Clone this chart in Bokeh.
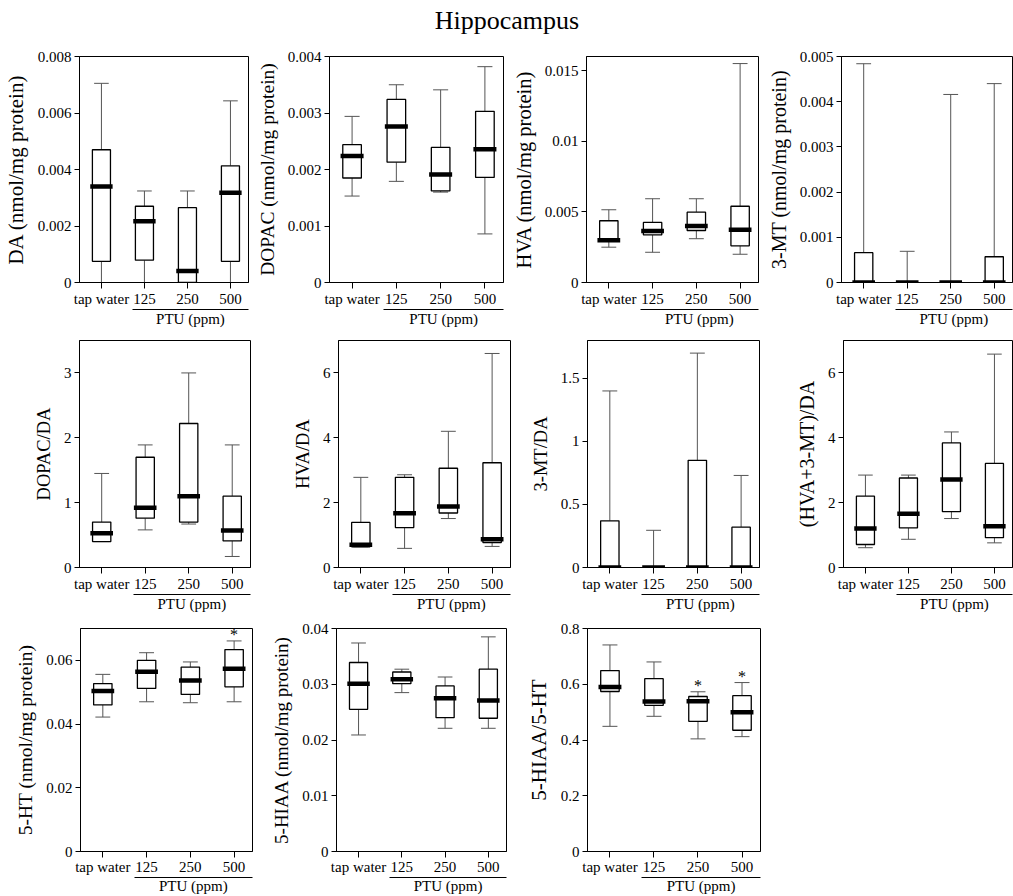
from bokeh.plotting import figure
from bokeh.models import Range1d, FixedTicker, LinearAxis, PrintfTickFormatter, ColumnDataSource
from bokeh.layouts import row, column
from bokeh.embed import file_html
from bokeh.resources import INLINE
from bokeh.core.properties import value

FONT = "Liberation Serif"

groups = ["tap water", "125", "250", "500"]
group_x = [1, 2, 3, 4]
title_text = "Hippocampus"
ptu_label = "PTU (ppm)"

# ---- DA (nmol/mg protein)
da_low = [0.0, 0.0, 0.0, 0.0]
da_q1 = [0.00075, 0.00079, 0.0, 0.00075]
da_med = [0.0034, 0.00217, 0.00041, 0.00318]
da_q3 = [0.0047, 0.0027, 0.00265, 0.00413]
da_high = [0.00705, 0.00324, 0.00324, 0.00643]
da_ticks = [0, 0.002, 0.004, 0.006, 0.008]

# ---- DOPAC (nmol/mg protein)
dopac_low = [0.00153, 0.00179, 0.0016, 0.00086]
dopac_q1 = [0.00185, 0.00213, 0.00162, 0.00186]
dopac_med = [0.00224, 0.00276, 0.00191, 0.00236]
dopac_q3 = [0.00244, 0.00324, 0.00239, 0.00303]
dopac_high = [0.00294, 0.0035, 0.00341, 0.00382]
dopac_ticks = [0, 0.001, 0.002, 0.003, 0.004]

# ---- HVA (nmol/mg protein)
hva_low = [0.0025, 0.00214, 0.0031, 0.002]
hva_q1 = [0.00295, 0.00337, 0.00368, 0.0026]
hva_med = [0.003, 0.00365, 0.004, 0.00373]
hva_q3 = [0.00437, 0.00425, 0.00498, 0.0054]
hva_high = [0.00515, 0.00593, 0.00593, 0.0155]
hva_ticks = [0, 0.005, 0.01, 0.015]

# ---- 3-MT (nmol/mg protein)
mt_low = [0.0, 0.0, 0.0, 0.0]
mt_q1 = [0.0, 0.0, 0.0, 0.0]
mt_med = [0.0, 0.0, 0.0, 0.0]
mt_q3 = [0.00066, 0.0, 0.0, 0.00057]
mt_high = [0.00484, 0.00069, 0.00416, 0.0044]
mt_ticks = [0, 0.001, 0.002, 0.003, 0.004, 0.005]

# ---- DOPAC/DA
dopacda_low = [0.4, 0.58, 0.67, 0.17]
dopacda_q1 = [0.4, 0.76, 0.7, 0.41]
dopacda_med = [0.53, 0.92, 1.1, 0.57]
dopacda_q3 = [0.7, 1.7, 2.22, 1.1]
dopacda_high = [1.45, 1.89, 3.0, 1.89]
dopacda_ticks = [0, 1, 2, 3]

# ---- HVA/DA
hvada_low = [0.64, 0.59, 1.51, 0.65]
hvada_q1 = [0.64, 1.23, 1.68, 0.77]
hvada_med = [0.7, 1.67, 1.88, 0.87]
hvada_q3 = [1.39, 2.78, 3.06, 3.23]
hvada_high = [2.78, 2.86, 4.2, 6.6]
hvada_ticks = [0, 2, 4, 6]

# ---- 3-MT/DA
mtda_low = [0.0, 0.0, 0.0, 0.0]
mtda_q1 = [0.0, 0.0, 0.0, 0.0]
mtda_med = [0.0, 0.0, 0.0, 0.0]
mtda_q3 = [0.37, 0.0, 0.85, 0.32]
mtda_high = [1.4, 0.295, 1.7, 0.73]
mtda_ticks = [0, 0.5, 1, 1.5]

# ---- (HVA+3-MT)/DA
sumda_low = [0.61, 0.87, 1.51, 0.76]
sumda_q1 = [0.71, 1.22, 1.72, 0.92]
sumda_med = [1.2, 1.66, 2.71, 1.27]
sumda_q3 = [2.2, 2.76, 3.84, 3.21]
sumda_high = [2.85, 2.85, 4.18, 6.58]
sumda_ticks = [0, 2, 4, 6]

# ---- 5-HT (nmol/mg protein)
ht_low = [0.0422, 0.047, 0.0467, 0.047]
ht_q1 = [0.046, 0.0512, 0.0493, 0.0517]
ht_med = [0.0504, 0.0564, 0.0537, 0.0574]
ht_q3 = [0.0527, 0.06, 0.0579, 0.0634]
ht_high = [0.0556, 0.0624, 0.0595, 0.0661]
ht_star = [False, False, False, True]
ht_ticks = [0, 0.02, 0.04, 0.06]

# ---- 5-HIAA (nmol/mg protein)
hiaa_low = [0.0209, 0.0285, 0.0221, 0.0221]
hiaa_q1 = [0.0255, 0.0301, 0.024, 0.0239]
hiaa_med = [0.0301, 0.0309, 0.0275, 0.0271]
hiaa_q3 = [0.0339, 0.0322, 0.0297, 0.0327]
hiaa_high = [0.0374, 0.0327, 0.0313, 0.0385]
hiaa_ticks = [0, 0.01, 0.02, 0.03, 0.04]

# ---- 5-HIAA/5-HT
ratio_low = [0.449, 0.485, 0.404, 0.412]
ratio_q1 = [0.574, 0.524, 0.467, 0.435]
ratio_med = [0.59, 0.538, 0.539, 0.5]
ratio_q3 = [0.649, 0.62, 0.556, 0.559]
ratio_high = [0.741, 0.68, 0.573, 0.606]
ratio_star = [False, False, True, True]
ratio_ticks = [0, 0.2, 0.4, 0.6, 0.8]

X_START, X_END = 0.49, 4.42
PTU_CENTER = 3.07
PTU_LEFT = 1.72


def make_panel(ylabel, low, q1, med, q3, high, yticks, ymax, stars,
               left, frame_w, right, top, frame_h, bottom, label_size="20px",
               tick_out=6, tick_standoff=2, ptu_standoff=1):
    p = figure(width=left + frame_w + right, height=top + frame_h + bottom,
               x_range=Range1d(X_START, X_END), y_range=Range1d(0, ymax),
               x_axis_type=None, y_axis_type=None,
               output_backend="svg", toolbar_location=None,
               min_border_left=left, min_border_right=right,
               min_border_top=top, min_border_bottom=bottom)
    p.outline_line_color = "black"
    p.outline_line_width = 1
    p.outline_line_alpha = 1
    p.background_fill_color = "white"
    p.border_fill_color = "white"

    yax = LinearAxis(ticker=FixedTicker(ticks=yticks, minor_ticks=[]),
                     formatter=PrintfTickFormatter(format="%g"),
                     axis_label=ylabel)
    yax.major_tick_out = 5
    yax.major_tick_in = 0
    yax.major_label_standoff = 3
    yax.axis_label_standoff = 7
    yax.major_label_text_font = FONT
    yax.major_label_text_font_size = "15px"
    yax.major_label_text_font_style = "normal"
    yax.major_label_text_color = "black"
    yax.axis_label_text_font = FONT
    yax.axis_label_text_font_size = label_size
    yax.axis_label_text_font_style = "normal"
    yax.axis_label_text_color = "black"
    yax.axis_line_color = "black"
    yax.major_tick_line_color = "black"
    p.add_layout(yax, "left")

    xax = LinearAxis(ticker=FixedTicker(ticks=group_x, minor_ticks=[]),
                     major_label_overrides={gx: g for gx, g in zip(group_x, groups)})
    xax.major_tick_out = tick_out
    xax.major_tick_in = 0
    xax.major_label_standoff = tick_standoff
    xax.major_label_text_font = FONT
    xax.major_label_text_font_size = "15px"
    xax.major_label_text_font_style = "normal"
    xax.major_label_text_color = "black"
    xax.axis_line_color = "black"
    xax.major_tick_line_color = "black"
    p.add_layout(xax, "below")

    p.extra_x_ranges = {"ptu": Range1d(X_START - PTU_CENTER, X_END - PTU_CENTER)}
    ptu = LinearAxis(x_range_name="ptu", ticker=FixedTicker(ticks=[0], minor_ticks=[]),
                     major_label_overrides={0: ptu_label},
                     bounds=(PTU_LEFT - PTU_CENTER, X_END - PTU_CENTER + 0.02))
    ptu.major_tick_out = 0
    ptu.major_tick_in = 0
    ptu.major_label_standoff = ptu_standoff
    ptu.major_label_text_font = FONT
    ptu.major_label_text_font_size = "15px"
    ptu.major_label_text_font_style = "normal"
    ptu.major_label_text_color = "black"
    ptu.axis_line_color = "black"
    p.add_layout(ptu, "below")

    cap_half = 0.17
    src = ColumnDataSource(dict(
        x=group_x, low=low, q1=q1, med=med, q3=q3, high=high,
        cl=[gx - cap_half for gx in group_x], cr=[gx + cap_half for gx in group_x]))
    wc = "#555555"
    p.segment(x0="x", y0="q3", x1="x", y1="high", source=src, line_color=wc, line_width=1)
    p.segment(x0="x", y0="low", x1="x", y1="q1", source=src, line_color=wc, line_width=1)
    p.segment(x0="cl", y0="high", x1="cr", y1="high", source=src, line_color=wc, line_width=1)
    p.segment(x0="cl", y0="low", x1="cr", y1="low", source=src, line_color=wc, line_width=1)
    p.vbar(x="x", width=0.42, bottom="q1", top="q3", source=src,
           fill_color="white", line_color="black", line_width=1.3)
    p.rect(x="x", y="med", width=0.52, height=4.5, height_units="screen", source=src,
           fill_color="black", line_color=None)

    if stars is not None:
        sx = [gx for gx, s in zip(group_x, stars) if s]
        sy = [h for h, s in zip(high, stars) if s]
        p.text(x=sx, y=sy, text=["*"] * len(sx), text_align="center",
               text_baseline="bottom", y_offset=2,
               text_font=value(FONT), text_font_size="16px", text_color="black")
    return p


# title strip
tp = figure(width=1013, height=40, x_range=Range1d(0, 1), y_range=Range1d(0, 1),
            x_axis_type=None, y_axis_type=None, output_backend="svg", toolbar_location=None,
            min_border=0)
tp.outline_line_color = None
tp.text(x=[0.5], y=[0.5], text=[title_text], text_align="center", text_baseline="middle",
        text_font=value(FONT), text_font_size="26px", text_color="black")

# row 1
r1 = dict(top=16, frame_h=226, bottom=48)
p1 = make_panel("DA (nmol/mg protein)", da_low, da_q1, da_med, da_q3, da_high,
                da_ticks, 0.008, None, 78, 170, 5, label_size="21px", **r1)
p2 = make_panel("DOPAC (nmol/mg protein)", dopac_low, dopac_q1, dopac_med, dopac_q3, dopac_high,
                dopac_ticks, 0.004, None, 74, 176, 3, label_size="19.5px", **r1)
p3 = make_panel("HVA (nmol/mg protein)", hva_low, hva_q1, hva_med, hva_q3, hva_high,
                hva_ticks, 0.016, None, 80, 172, 1, label_size="20.5px", **r1)
p4 = make_panel("3-MT (nmol/mg protein)", mt_low, mt_q1, mt_med, mt_q3, mt_high,
                mt_ticks, 0.005, None, 82, 171, 1, label_size="20px", **r1)

# row 2
r2 = dict(top=10, frame_h=227, bottom=48)
p5 = make_panel("DOPAC/DA", dopacda_low, dopacda_q1, dopacda_med, dopacda_q3, dopacda_high,
                dopacda_ticks, 3.5, None, 79, 171, 5, label_size="18.5px", **r2)
p6 = make_panel("HVA/DA", hvada_low, hvada_q1, hvada_med, hvada_q3, hvada_high,
                hvada_ticks, 7, None, 83, 172, 2, label_size="18.5px", **r2)
p7 = make_panel("3-MT/DA", mtda_low, mtda_q1, mtda_med, mtda_q3, mtda_high,
                mtda_ticks, 1.8, None, 75, 172, 3, label_size="18.5px", **r2)
p8 = make_panel("(HVA+3-MT)/DA", sumda_low, sumda_q1, sumda_med, sumda_q3, sumda_high,
                sumda_ticks, 7, None, 81, 169, 1, label_size="20px", **r2)

# row 3
r3 = dict(top=13, frame_h=227, bottom=41, tick_out=6, tick_standoff=1, ptu_standoff=0)
p9 = make_panel("5-HT (nmol/mg protein)", ht_low, ht_q1, ht_med, ht_q3, ht_high,
                ht_ticks, 0.07, ht_star, 80, 172, 3, label_size="19.5px", **r3)
p10 = make_panel("5-HIAA (nmol/mg protein)", hiaa_low, hiaa_q1, hiaa_med, hiaa_q3, hiaa_high,
                 hiaa_ticks, 0.04, None, 81, 170, 4, label_size="19px", **r3)
p11 = make_panel("5-HIAA/5-HT", ratio_low, ratio_q1, ratio_med, ratio_q3, ratio_high,
                 ratio_ticks, 0.8, ratio_star, 77, 173, 3, label_size="21px", **r3)

layout = column(tp, row(p1, p2, p3, p4), row(p5, p6, p7, p8), row(p9, p10, p11))
open("out.html", "w").write(file_html(layout, INLINE, title=title_text))
